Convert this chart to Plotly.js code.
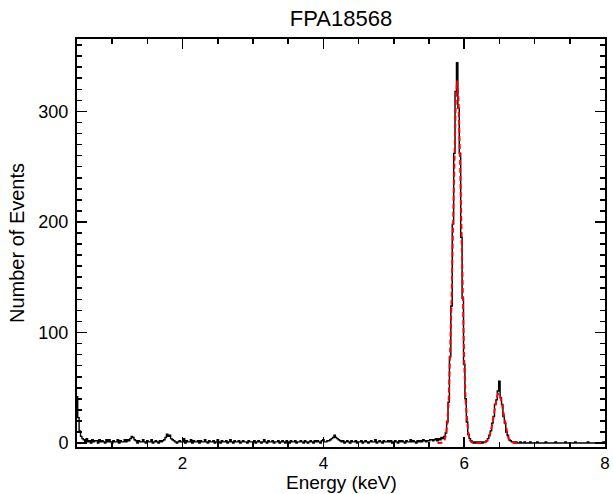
<!DOCTYPE html>
<html>
<head>
<meta charset="utf-8">
<script src="https://cdn.plot.ly/plotly-3.0.1.min.js"></script>
<style>html,body{margin:0;padding:0;background:#fff;}#chart{width:613px;height:494px;}</style>
</head>
<body>
<div id="chart"></div>
<script>
// Spectrum histogram: counts per 0.02 keV bin, bin centres from 0.50 keV
const binStart = 0.50;
const binWidth = 0.02;
const counts = [
  42, 23, 11, 6, 4, 3, 1, 4, 1, 2, 0, 3, 1, 2, 2, 0, 3, 1, 2, 1, 0, 3, 1, 3, 1,          // 0.50-0.98
  0, 2, 1, 1, 3, 0, 2, 1, 1, 3, 1, 3, 2, 4, 6, 5, 3, 2, 0, 2, 1, 1, 3, 1, 0,             // 1.00-1.48
  2, 1, 1, 3, 0, 1, 2, 1, 0, 2, 1, 2, 3, 5, 8, 6, 7, 4, 3, 2, 1, 0, 1, 2, 1,             // 1.50-1.98
  1, 4, 0, 2, 1, 1, 3, 0, 2, 1, 1, 2, 0, 2, 1, 1, 3, 1, 0, 2, 1, 1, 2, 0, 1,             // 2.00-2.48
  3, 1, 0, 2, 1, 1, 2, 0, 1, 3, 1, 0, 2, 1, 1, 2, 0, 1, 2, 1, 1, 0, 2, 1, 1,             // 2.50-2.98
  1, 2, 0, 1, 2, 1, 0, 1, 3, 1, 0, 2, 1, 1, 2, 0, 1, 1, 2, 0, 1, 2, 1, 0, 2,             // 3.00-3.48
  1, 0, 2, 1, 1, 2, 0, 1, 1, 2, 1, 0, 2, 1, 0, 1, 2, 1, 0, 2, 1, 2, 1, 0, 2,             // 3.50-3.98
  3, 1, 1, 2, 2, 3, 4, 5, 7, 5, 4, 3, 2, 1, 2, 0, 1, 2, 1, 0, 2, 1, 1, 2, 0,             // 4.00-4.48
  1, 1, 2, 0, 1, 2, 1, 0, 1, 2, 1, 1, 3, 0, 1, 2, 1, 0, 2, 1, 1, 2, 1, 2, 0,             // 4.50-4.98
  1, 2, 1, 0, 2, 1, 2, 1, 0, 2, 1, 1, 3, 1, 2, 1, 0, 2, 1, 2, 1, 3, 2, 1, 2,             // 5.00-5.48
  2, 3, 3, 2, 3, 4, 2, 4, 3, 5, 4, 6, 9, 19, 37, 78, 124, 198, 262, 318, 344, 303, 262, 186, 131, // 5.50-5.98
  71, 40, 19, 8, 4, 2, 1, 0, 1, 0, 1, 0, 1, 0, 1, 1, 2, 4, 7, 11, 18, 24, 35, 39, 47,   // 6.00-6.48
  56, 41, 35, 24, 18, 10, 7, 3, 2, 1, 1, 0, 1, 0, 0, 1, 0, 0, 1, 0, 0, 0, 1, 0, 0,       // 6.50-6.98
  0, 0, 1, 0, 0, 0, 0, 0, 1, 0, 0, 0, 0, 0, 0, 1, 0, 0, 0, 0, 0, 0, 1, 0, 0,             // 7.00-7.48
  0, 0, 0, 0, 1, 0, 0, 0, 0, 0, 0, 0, 0, 1, 0, 0, 0, 0, 0, 0, 0, 0, 0, 0, 1,             // 7.50-7.98
  0                                                                                        // 8.00
];

// Fitted model (two Gaussian lines), same bin width, starting at 5.62 keV
const fitStart = 5.62;
const fitValues = [
  0, 0.01, 0.06, 0.25, 0.86, 2.7, 7.3, 17.8, 38.6, 74, 127, 192, 259, 309, 328,
  309, 259, 192, 127, 74, 38.6, 17.8, 7.3, 2.7, 0.86, 0.25, 0.06, 0.01, 0, 0,
  0.01, 0.03, 0.09, 0.24, 0.63, 1.5, 3.1, 6.1, 10.7, 17.2, 25.2, 33.5, 40.4, 44.5,
  44.5, 40.4, 33.5, 25.2, 17.2, 10.7, 6.1, 3.1, 1.5, 0.63, 0.24, 0.09, 0.03, 0.01
];

const titleText = "FPA18568";
const xTitle = "Energy (keV)";
const yTitle = "Number of Events";

const energy = counts.map((_, i) => +(binStart + i * binWidth).toFixed(3));
const fitEnergy = fitValues.map((_, i) => +(fitStart + i * binWidth).toFixed(3));

const font = "Liberation Sans, Arial, Helvetica, sans-serif";

const traces = [
  {x: energy, y: counts, type: "scatter", mode: "lines",
   line: {color: "#000", width: 1.4, shape: "hvh"}, hoverinfo: "skip"},
  {x: fitEnergy, y: fitValues, type: "scatter", mode: "lines",
   line: {color: "#ff0000", width: 2, dash: "5px,3px"}, hoverinfo: "skip"}
];

const axisCommon = {
  showline: true, linecolor: "#000", linewidth: 2, mirror: "allticks",
  ticks: "inside", ticklen: 10, tickwidth: 1.6, tickcolor: "#000",
  showgrid: false, zeroline: false,
  tickfont: {family: font, size: 18, color: "#000"}
};

const layout = {
  width: 613, height: 494,
  margin: {l: 77, r: 8, t: 39, b: 47},
  paper_bgcolor: "#fff", plot_bgcolor: "#fff",
  showlegend: false,
  title: {text: titleText, x: 0.5, xref: "paper", y: 0.963, yanchor: "middle",
          font: {family: font, size: 22, color: "#000"}},
  xaxis: Object.assign({}, axisCommon, {
    range: [0.5, 8.0], tickmode: "linear", tick0: 0, dtick: 2,
    ticklabelstandoff: 0,
    tickfont: {family: font, size: 17, color: "#000"},
    minor: {ticks: "inside", ticklen: 5, dtick: 0.5, tick0: 0, tickwidth: 1.6, tickcolor: "#000"}
  }),
  yaxis: Object.assign({}, axisCommon, {
    range: [-3.6, 365.5], tickmode: "linear", tick0: 0, dtick: 100,
    ticklabelstandoff: 3,
    minor: {ticks: "inside", ticklen: 5, dtick: 10, tick0: 0, tickwidth: 1.6, tickcolor: "#000"},
    title: {text: yTitle, font: {family: font, size: 20, color: "#000"}, standoff: 8}
  }),
  annotations: [
    {text: xTitle, xref: "paper", yref: "paper", x: 0.5, y: -0.087,
     xanchor: "center", yanchor: "middle", showarrow: false,
     font: {family: font, size: 19, color: "#000"}}
  ]
};

Plotly.newPlot("chart", traces, layout, {staticPlot: true, displayModeBar: false});
</script>
</body>
</html>
